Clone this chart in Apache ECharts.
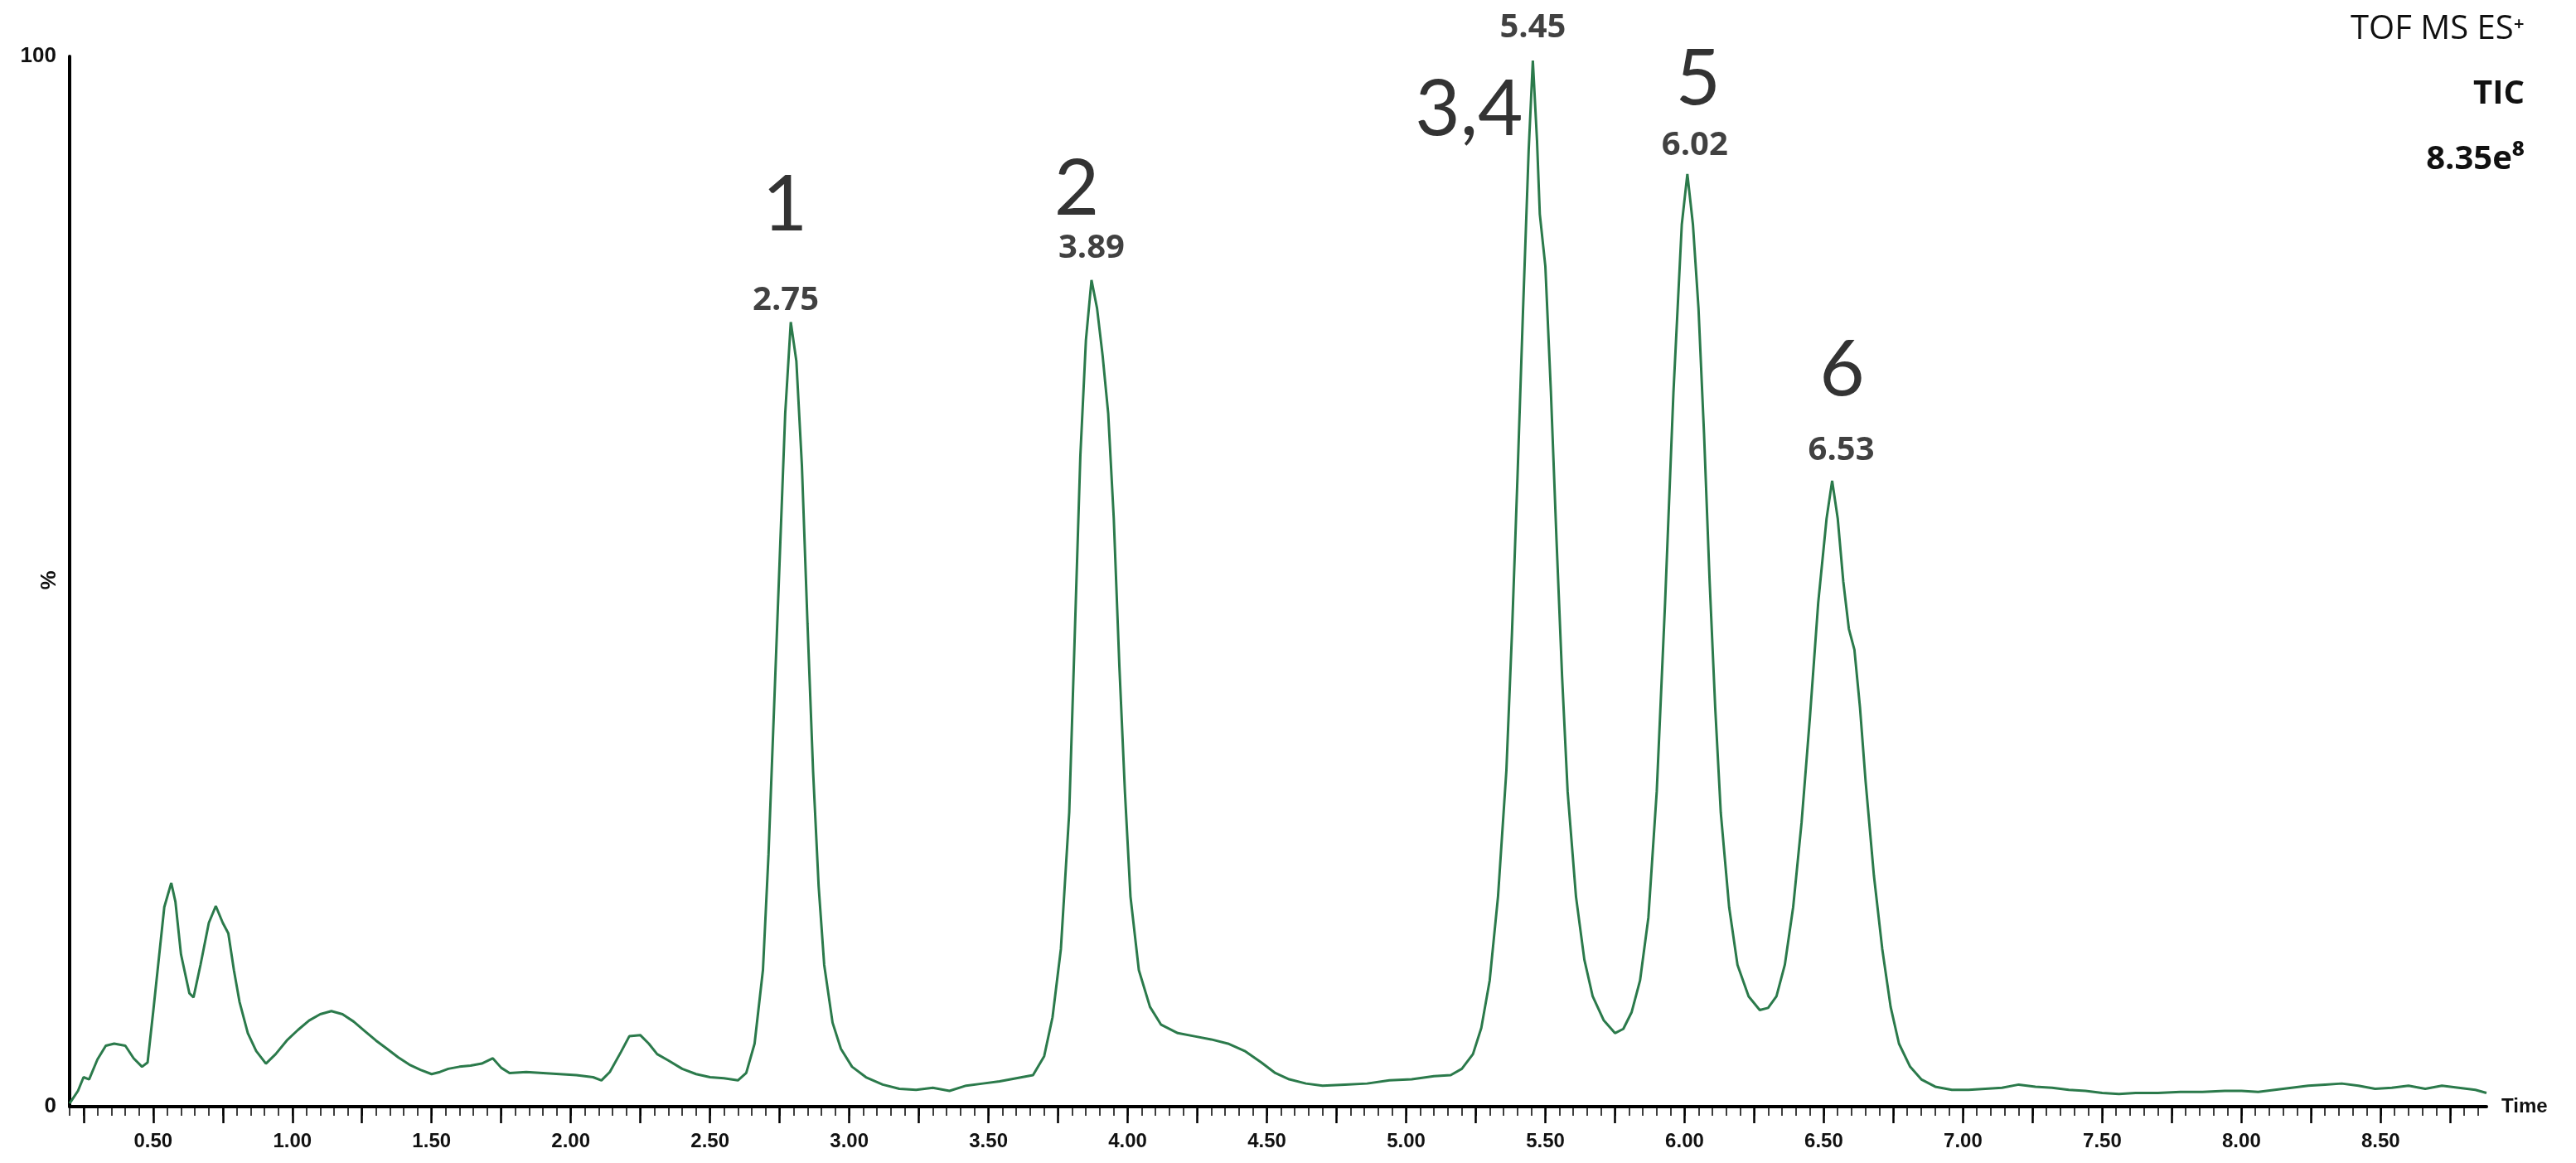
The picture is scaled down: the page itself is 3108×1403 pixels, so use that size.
<!DOCTYPE html>
<html>
<head>
<meta charset="utf-8">
<script src="https://cdn.jsdelivr.net/npm/echarts@6/dist/echarts.min.js"></script>
<style>
  html, body { margin: 0; padding: 0; background: #fff; }
  #chart { width: 3108px; height: 1403px; }
</style>
</head>
<body>
<div id="chart"></div>
<script>
// ---- Data ----
const times = [0.20,0.23,0.25,0.27,0.30,0.33,0.36,0.40,0.43,0.46,0.48,0.50,0.52,0.54,0.565,0.58,0.60,0.63,0.645,0.67,0.70,0.725,0.75,0.77,0.79,0.81,0.84,0.87,0.905,0.94,0.98,1.02,1.06,1.10,1.14,1.18,1.22,1.26,1.30,1.34,1.38,1.42,1.46,1.50,1.53,1.56,1.60,1.64,1.68,1.72,1.75,1.78,1.84,1.90,1.96,2.02,2.08,2.11,2.14,2.18,2.21,2.25,2.28,2.31,2.35,2.40,2.45,2.50,2.55,2.60,2.63,2.66,2.69,2.71,2.73,2.75,2.77,2.79,2.81,2.83,2.85,2.87,2.89,2.91,2.94,2.97,3.01,3.06,3.12,3.18,3.24,3.30,3.36,3.42,3.48,3.54,3.60,3.66,3.70,3.73,3.76,3.79,3.81,3.83,3.85,3.87,3.89,3.91,3.93,3.95,3.97,3.99,4.01,4.04,4.08,4.12,4.18,4.24,4.30,4.36,4.42,4.48,4.53,4.58,4.64,4.70,4.78,4.86,4.94,5.02,5.10,5.16,5.20,5.24,5.27,5.30,5.33,5.36,5.38,5.40,5.42,5.44,5.455,5.47,5.48,5.50,5.52,5.54,5.56,5.58,5.61,5.64,5.67,5.71,5.75,5.78,5.81,5.84,5.87,5.90,5.93,5.96,5.99,6.01,6.03,6.05,6.07,6.09,6.11,6.13,6.16,6.19,6.23,6.27,6.30,6.33,6.36,6.39,6.42,6.45,6.48,6.51,6.53,6.55,6.57,6.59,6.61,6.63,6.65,6.68,6.71,6.74,6.77,6.81,6.85,6.90,6.96,7.02,7.08,7.14,7.20,7.26,7.32,7.38,7.44,7.50,7.56,7.62,7.70,7.78,7.86,7.94,8.00,8.06,8.12,8.18,8.24,8.30,8.36,8.42,8.48,8.54,8.60,8.66,8.72,8.78,8.84,8.88];
const intensity = [0.3,1.5,2.8,2.6,4.5,5.8,6.0,5.8,4.6,3.8,4.2,9.0,14.0,19.0,21.3,19.5,14.5,10.8,10.4,13.5,17.5,19.1,17.5,16.5,13.0,10.0,7.0,5.3,4.1,5.0,6.3,7.3,8.2,8.8,9.1,8.8,8.1,7.2,6.3,5.5,4.7,4.0,3.5,3.1,3.3,3.6,3.8,3.9,4.1,4.6,3.7,3.2,3.3,3.2,3.1,3.0,2.8,2.5,3.3,5.2,6.7,6.8,6.0,5.0,4.4,3.6,3.1,2.8,2.7,2.5,3.2,6.0,13.0,24.0,38,52,66,74.7,71,61,46,32,21,13.5,8,5.5,3.8,2.8,2.1,1.7,1.6,1.8,1.5,2.0,2.2,2.4,2.7,3.0,4.8,8.5,15,28,45,62,73,78.7,76,71.5,66,56,42,30,20,13,9.5,7.8,7.0,6.7,6.4,6.0,5.3,4.2,3.2,2.6,2.2,2.0,2.1,2.2,2.5,2.6,2.9,3.0,3.6,5.0,7.5,12,20,32,45,60,76,91,99.6,92,85,80,68,54,41,30,20,14,10.5,8.2,7.0,7.4,9.0,12,18,30,48,68,84,88.8,84,76,64,50,38,28,19,13.5,10.5,9.2,9.4,10.5,13.5,19,27,37,48,56,59.6,56,50,45.5,43.5,38,31,22,15,9.5,6,3.8,2.6,1.9,1.6,1.6,1.7,1.8,2.1,1.9,1.8,1.6,1.5,1.3,1.2,1.3,1.3,1.4,1.4,1.5,1.5,1.4,1.6,1.8,2.0,2.1,2.2,2.0,1.7,1.8,2.0,1.7,2.0,1.8,1.6,1.3];

const peakTimes = [2.79, 3.87, 5.455, 6.01, 6.53];
const peakValues = [74.7, 78.7, 99.6, 88.8, 59.6];
const peakRtLabels = ['2.75', '3.89', '5.45', '6.02', '6.53'];
const peakCompoundLabels = ['1', '2', '3,4', '5', '6'];

const xTickLabels = [0.5,1.0,1.5,2.0,2.5,3.0,3.5,4.0,4.5,5.0,5.5,6.0,6.5,7.0,7.5,8.0,8.5];
const yTickLabels = [0, 100];
const yAxisTitle = '%';
const headerLines = ['TOF MS ES\u207A', 'TIC', '8.35e\u2078'];

// ---- Layout / style (not data) ----
const X_MIN = 0.2, X_MAX = 8.88;
const majorTicks = [];
for (let i = 1; i * 0.25 <= X_MAX; i++) majorTicks.push(+(i * 0.25).toFixed(2));
const minorTicks = [];
for (let i = 4; i * 0.05 <= X_MAX; i++) minorTicks.push(+(i * 0.05).toFixed(2));

const rtOffsets = [[-6, -26], [0, -38], [0, -39], [9, -34], [11, -36]];
const cmpOffsets = [[-7, -141], [-18, -109], [-77, 60], [13, -114], [12, -133]];
const headerStyles = [
  { y: 36, font: 'normal 40px "Open Sans"' },
  { y: 114, font: 'bold 40px "Open Sans"' },
  { y: 193, font: 'bold 40px "Open Sans"' }
];

const lineData = times.map((t, i) => [t, intensity[i]]);

const chart = echarts.init(document.getElementById('chart'), null, { renderer: 'canvas' });
const axisFont = { fontFamily: 'Liberation Sans', fontWeight: 'bold', fontSize: 24, color: '#111' };

chart.setOption({
  animation: false,
  backgroundColor: '#ffffff',
  grid: { left: 84, right: 108, top: 68, bottom: 68, containLabel: false },
  xAxis: [
    {
      type: 'value', min: X_MIN, max: X_MAX,
      name: 'Time', nameLocation: 'end', nameGap: 18,
      nameTextStyle: Object.assign({}, axisFont, { fontSize: 24 }),
      axisLine: { show: true, onZero: false, lineStyle: { color: '#000', width: 4 } },
      axisTick: { show: true, customValues: majorTicks, length: 20, lineStyle: { color: '#000', width: 2.5 } },
      axisLabel: Object.assign({ show: true, customValues: xTickLabels, margin: 30,
        formatter: v => v.toFixed(2) }, axisFont),
      splitLine: { show: false }
    },
    {
      type: 'value', min: X_MIN, max: X_MAX, position: 'bottom',
      axisLine: { show: false },
      axisTick: { show: true, customValues: minorTicks, length: 11, lineStyle: { color: '#000', width: 1.5 } },
      axisLabel: { show: false },
      splitLine: { show: false }
    }
  ],
  yAxis: {
    type: 'value', min: 0, max: 100,
    axisLine: { show: true, lineStyle: { color: '#000', width: 4 } },
    axisTick: { show: false },
    axisLabel: Object.assign({ customValues: yTickLabels, margin: 16 }, axisFont, { fontSize: 26 }),
    splitLine: { show: false }
  },
  series: [
    {
      type: 'line', xAxisIndex: 0, data: lineData, showSymbol: false,
      lineStyle: { color: '#2b7a4b', width: 3 }, z: 3
    },
    {
      type: 'scatter', xAxisIndex: 0, symbolSize: 1, itemStyle: { color: 'rgba(0,0,0,0)' },
      data: peakTimes.map((t, i) => ({
        value: [t, peakValues[i]],
        label: { show: true, position: 'inside', offset: rtOffsets[i], formatter: peakRtLabels[i],
          fontFamily: 'Open Sans', fontWeight: 'bold', fontSize: 40, color: '#111' }
      })), z: 5
    },
    {
      type: 'scatter', xAxisIndex: 0, symbolSize: 1, itemStyle: { color: 'rgba(0,0,0,0)' },
      data: peakTimes.map((t, i) => ({
        value: [t, peakValues[i]],
        label: { show: true, position: 'inside', offset: cmpOffsets[i], formatter: peakCompoundLabels[i],
          fontFamily: 'Lato', fontWeight: 'normal', fontSize: 94, color: '#000' }
      })), z: 5
    }
  ],
  graphic: headerLines.map((txt, i) => ({
    type: 'text', x: 3046, y: headerStyles[i].y,
    style: { text: txt, fill: '#111', font: headerStyles[i].font, textAlign: 'right', textVerticalAlign: 'middle' }
  })).concat([{
    type: 'text', x: 60, y: 700, rotation: Math.PI / 2,
    style: { text: yAxisTitle, fill: '#111', font: 'bold 26px "Liberation Sans"', textAlign: 'center', textVerticalAlign: 'middle' }
  }])
});
</script>
</body>
</html>
